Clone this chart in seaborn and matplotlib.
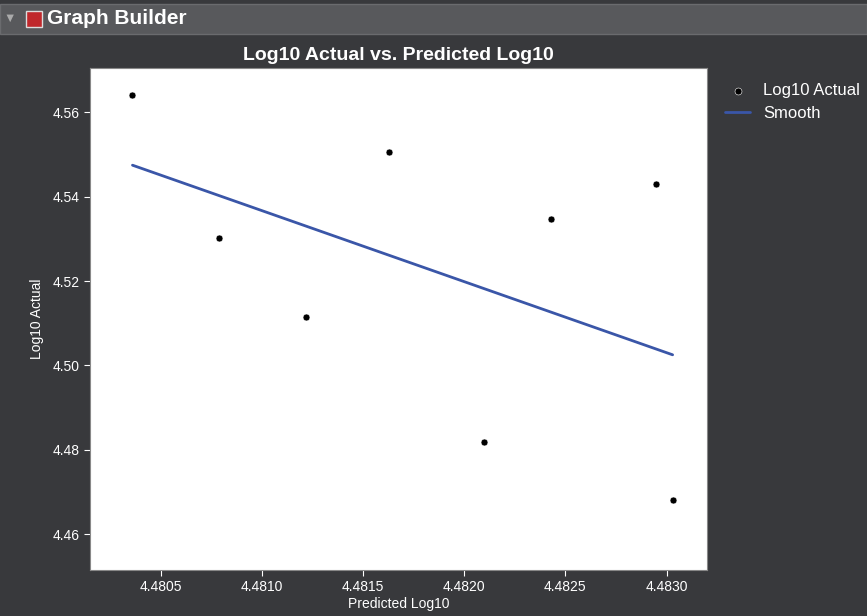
import numpy as np
import matplotlib.pyplot as plt
import seaborn as sns
from matplotlib.patches import Rectangle

predicted = [4.48036, 4.48079, 4.48122, 4.48163, 4.48210, 4.48243, 4.48295, 4.48303]
actual = [4.5642, 4.5302, 4.5114, 4.5506, 4.4818, 4.5346, 4.5429, 4.4682]

sns.set_style("white")
plt.rcParams['font.family'] = ['Liberation Sans', 'DejaVu Sans']

fig = plt.figure(figsize=(8.67, 6.16), dpi=100)
fig.patch.set_facecolor('#38393c')

# header bar
fig.patches.append(Rectangle((0, 1 - 34/616), 1, 30/616, transform=fig.transFigure,
                             facecolor='#58595c', edgecolor='#6a6b6e'))
fig.patches.append(Rectangle((26/867, 1 - 27/616), 16/867, 16/616, transform=fig.transFigure,
                             facecolor='#c0282c', edgecolor='#dddddd'))
fig.text(10/867, 1 - 19/616, '\u25bc', color='#aaaaaa', fontsize=9, va='center', ha='center')
fig.text(47/867, 1 - 19/616, 'Graph Builder', color='white', fontsize=15, fontweight='bold', va='center')

ax = fig.add_axes([90/867, 1 - 570/616, 617/867, 502/616])
ax.set_facecolor('white')
sns.scatterplot(x=predicted, y=actual, color='black', s=25, ax=ax, label='Log10 Actual', zorder=3)
sns.regplot(x=np.array(predicted), y=np.array(actual), scatter=False, ci=None,
            color='#3a56a8', line_kws={'lw': 2}, ax=ax, label='Smooth')

ax.set_xlim(4.48015, 4.48320)
ax.set_ylim(4.4515, 4.5705)
ax.set_xticks([4.4805, 4.4810, 4.4815, 4.4820, 4.4825, 4.4830])
ax.set_xticklabels(['4.4805', '4.4810', '4.4815', '4.4820', '4.4825', '4.4830'])
ax.set_yticks([4.46, 4.48, 4.50, 4.52, 4.54, 4.56])
ax.set_yticklabels(['4.46', '4.48', '4.50', '4.52', '4.54', '4.56'])
ax.tick_params(colors='white', labelsize=10, length=4, direction='out', bottom=True, left=True)
ax.set_xlabel('Predicted Log10', color='white', fontsize=10, labelpad=2)
ax.set_ylabel('Log10 Actual', color='white', fontsize=10, labelpad=6)
ax.set_title('Log10 Actual vs. Predicted Log10', color='white', fontsize=14, fontweight='bold', pad=6)
for s in ax.spines.values():
    s.set_color('#888888')

leg = ax.legend(loc='upper left', bbox_to_anchor=(1.005, 1.0), frameon=False, fontsize=12,
                labelcolor='white', handlelength=1.5, markerscale=1)
fig.savefig('out.png', dpi=100, facecolor=fig.get_facecolor())
